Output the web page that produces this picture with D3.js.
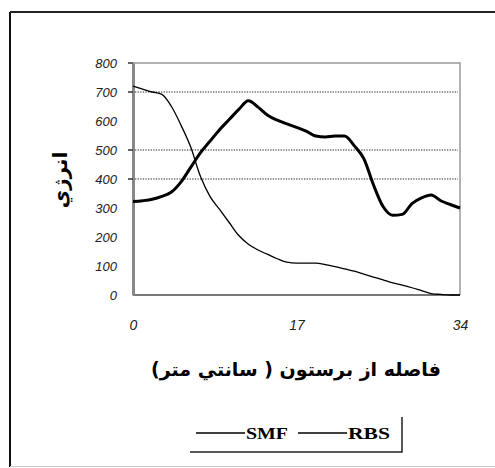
<!DOCTYPE html>
<html>
<head>
<meta charset="utf-8">
<script src="https://cdn.jsdelivr.net/npm/d3@7"></script>
<style>
  body { margin: 0; background: #fff; }
  svg { display: block; }
</style>
</head>
<body>
<div id="chart"></div>
<script>
// Data
const distance = d3.range(0, 35)
const smf = [720, 710, 700, 692, 650, 585, 510, 410, 340, 295, 250, 205, 175, 155, 140, 125, 113,
  110, 110, 110, 105, 98, 90, 82, 72, 62, 52, 42, 34, 25, 15, 5, 2, 0, 0]
const rbs = [322, 325, 330, 340, 355, 390, 440, 490, 530, 570, 605, 640, 670, 648, 620, 603, 590,
  578, 565, 548, 545, 548, 548, 515, 470, 380, 305, 275, 278, 315, 335, 345, 325, 312, 300]
const yTicks = [0, 100, 200, 300, 400, 500, 600, 700, 800]
const gridValues = [400, 500, 700]
const xTicks = [0, 17, 34]
const xTitle = 'فاصله از برستون ( سانتي متر)'
const yTitle = 'انرژي'
const seriesNames = ['SMF', 'RBS']

// canvas
const width = 495,
  height = 468
const plot = { left: 133, top: 63, right: 460, bottom: 295 }

let svg = d3.select('#chart')
  .append('svg')
  .attr('width', width)
  .attr('height', height)

// outer frame
svg.append('line').attr('x1', 10).attr('x2', 10).attr('y1', 12).attr('y2', 467)
  .attr('stroke', '#111').attr('stroke-width', 2)
svg.append('line').attr('x1', 10).attr('x2', width).attr('y1', 12).attr('y2', 12)
  .attr('stroke', '#222').attr('stroke-width', 2)
svg.append('line').attr('x1', 10).attr('x2', width).attr('y1', 466.5).attr('y2', 466.5)
  .attr('stroke', '#ccc').attr('stroke-width', 1)

const x = d3.scaleLinear().domain([0, 34]).range([plot.left, plot.right])
const y = d3.scaleLinear().domain([0, 800]).range([plot.bottom, plot.top])

// grid lines (dotted)
svg.append('g')
  .selectAll('line')
  .data(gridValues)
  .enter()
  .append('line')
  .attr('x1', plot.left + 2)
  .attr('x2', plot.right - 2)
  .attr('y1', d => y(d))
  .attr('y2', d => y(d))
  .attr('stroke', '#222')
  .attr('stroke-width', 1.2)
  .attr('stroke-dasharray', '1.3,1.3')

// plot frame
svg.append('path')
  .attr('d', `M${plot.left},${plot.top}H${plot.right}V${plot.bottom}`)
  .attr('fill', 'none')
  .attr('stroke', '#999')
  .attr('stroke-width', 1.5)
svg.append('line')
  .attr('x1', plot.left).attr('x2', plot.right)
  .attr('y1', plot.bottom).attr('y2', plot.bottom)
  .attr('stroke', '#777').attr('stroke-width', 2)

// y axis
let yAxis = svg.append('g')
  .attr('transform', 'translate(' + plot.left + ',0)')
  .call(d3.axisLeft(y).tickValues(yTicks).tickSize(0).tickPadding(16))
yAxis.select('.domain').attr('stroke', '#888').attr('stroke-width', 3)
yAxis.selectAll('text')
  .style('font-family', 'Liberation Sans, Arial, sans-serif')
  .style('font-style', 'italic')
  .style('font-size', '13px')
  .attr('fill', '#222')
// small ticks at the gridlines and top
svg.append('g')
  .selectAll('line')
  .data([800, 700, 500, 400])
  .enter()
  .append('line')
  .attr('x1', plot.left - 5)
  .attr('x2', plot.left)
  .attr('y1', d => y(d))
  .attr('y2', d => y(d))
  .attr('stroke', '#333')
  .attr('stroke-width', 1.5)

// x axis labels
svg.append('g')
  .attr('transform', 'translate(0,' + plot.bottom + ')')
  .call(d3.axisBottom(x).tickValues(xTicks).tickSize(0).tickPadding(25))
  .call(g => g.select('.domain').remove())
  .selectAll('text')
  .style('font-family', 'Liberation Sans, Arial, sans-serif')
  .style('font-style', 'italic')
  .style('font-size', '14px')
  .attr('fill', '#222')

// lines
const line = vals => d3.line()
  .x((d, i) => x(distance[i]))
  .y(d => y(d))
  .curve(d3.curveMonotoneX)(vals)

svg.append('path')
  .attr('d', line(smf))
  .attr('fill', 'none')
  .attr('stroke', '#000')
  .attr('stroke-width', 1.3)

svg.append('path')
  .attr('d', line(rbs))
  .attr('fill', 'none')
  .attr('stroke', '#000')
  .attr('stroke-width', 3)

// axis titles
svg.append('text')
  .attr('x', 296)
  .attr('y', 376)
  .attr('text-anchor', 'middle')
  .attr('direction', 'rtl')
  .attr('font-family', 'DejaVu Sans, sans-serif')
  .attr('font-weight', 'bold')
  .attr('font-size', 19)
  .text(xTitle)

svg.append('text')
  .attr('transform', 'translate(67,180) rotate(-90)')
  .attr('text-anchor', 'middle')
  .attr('direction', 'rtl')
  .attr('font-family', 'DejaVu Sans, sans-serif')
  .attr('font-weight', 'bold')
  .attr('font-size', 20)
  .text(yTitle)

// legend
let legend = svg.append('g')
legend.append('path')
  .attr('d', 'M190,452H402V417')
  .attr('fill', 'none')
  .attr('stroke', '#222')
  .attr('stroke-width', 1.5)
const legendX = [196, 298]
seriesNames.forEach((name, i) => {
  legend.append('line')
    .attr('x1', legendX[i]).attr('x2', legendX[i] + 49)
    .attr('y1', 433).attr('y2', 433)
    .attr('stroke', '#000').attr('stroke-width', 1.3)
  legend.append('text')
    .attr('x', legendX[i] + 50)
    .attr('y', 439)
    .attr('font-family', 'Liberation Serif, Times New Roman, serif')
    .attr('font-weight', 'bold')
    .attr('font-size', 17)
    .attr('textLength', 42)
    .attr('lengthAdjust', 'spacingAndGlyphs')
    .text(name)
})
</script>
</body>
</html>
